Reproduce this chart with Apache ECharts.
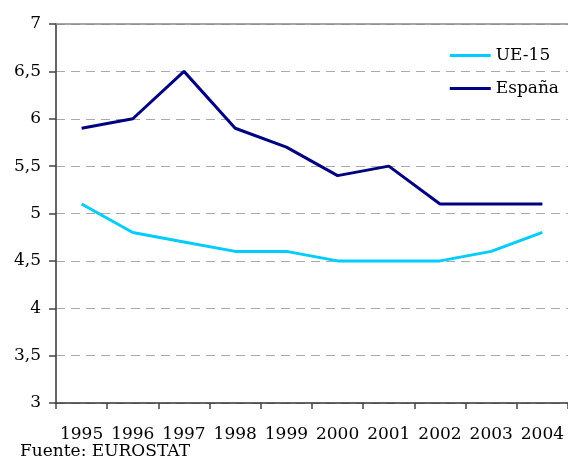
<!DOCTYPE html>
<html><head><meta charset="utf-8">
<script src="https://cdn.jsdelivr.net/npm/echarts@6/dist/echarts.min.js"></script>
<style>html,body{margin:0;padding:0;background:#fff}#c{width:568px;height:459px}</style>
</head><body><div id="c"></div>
<script>
const years = ['1995','1996','1997','1998','1999','2000','2001','2002','2003','2004'];
const ue15 = [5.1, 4.8, 4.7, 4.6, 4.6, 4.5, 4.5, 4.5, 4.6, 4.8];
const espana = [5.9, 6.0, 6.5, 5.9, 5.7, 5.4, 5.5, 5.1, 5.1, 5.1];
const yTicks = [3, 3.5, 4, 4.5, 5, 5.5, 6, 6.5, 7];
const font = 'DejaVu Serif';
const chart = echarts.init(document.getElementById('c'), null, {renderer:'canvas'});
chart.setOption({
  animation:false,
  textStyle:{fontFamily:font},
  grid:{left:56, right:-1, top:24, bottom:56, containLabel:false},
  legend:{
    right:4, top:42, orient:'vertical', itemGap:16, itemWidth:41, itemHeight:14,
    icon:'path://M0,5.5 L40,5.5 L40,8.5 L0,8.5 Z',
    textStyle:{fontFamily:font, fontSize:17, color:'#000'},
    data:['UE-15','España']
  },
  xAxis:[{
    type:'category', data:years, boundaryGap:true,
    axisLine:{lineStyle:{color:'#333', width:1.5}},
    axisTick:{show:true, interval:0, length:6, lineStyle:{color:'#444', width:1.5}},
    axisLabel:{color:'#000', fontSize:17, fontFamily:font, margin:23, interval:0, hideOverlap:false},
    splitLine:{show:false}
  },{
    type:'category', data:years, position:'top', boundaryGap:true,
    axisLine:{show:true, lineStyle:{color:'#888', width:1.5}},
    axisTick:{show:false}, axisLabel:{show:false}, splitLine:{show:false}
  }],
  yAxis:{
    type:'value', min:3, max:7, interval:0.5,
    axisLine:{show:true, lineStyle:{color:'#333', width:1.5}},
    axisTick:{show:true, length:7, lineStyle:{color:'#444', width:1.5}},
    axisLabel:{color:'#000', fontSize:17, fontFamily:font, margin:15,
      formatter:v=>String(v).replace('.',',')},
    splitLine:{show:true, lineStyle:{color:'#aaa', type:[9,6], width:1}}
  },
  series:[
    {name:'UE-15', type:'line', data:ue15, symbol:'none', color:'#00CCFF', lineStyle:{width:3}},
    {name:'España', type:'line', data:espana, symbol:'none', color:'#000080', lineStyle:{width:3}}
  ],
  graphic:[{type:'text', left:20, top:443, style:{text:'Fuente: EUROSTAT', fontFamily:font, fontSize:17, fill:'#000'}}]
});
</script></body></html>
